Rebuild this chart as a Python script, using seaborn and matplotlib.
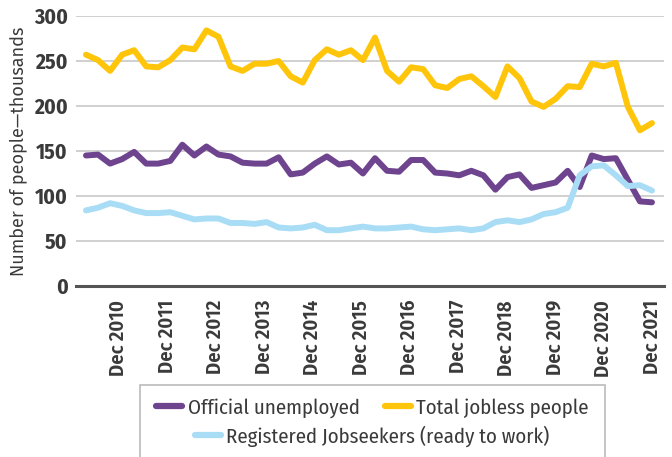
import numpy as np
import pandas as pd
import seaborn as sns
import matplotlib.pyplot as plt
from matplotlib import font_manager
from matplotlib.lines import Line2D
from matplotlib.patches import Rectangle

# Quarterly series, thousands of people
quarters = pd.period_range('2010Q1', '2021Q4', freq='Q').astype(str)
official_unemployed = [145, 146, 136, 141, 149, 136, 136, 139, 157, 145, 155, 146,
                       144, 137, 136, 136, 143, 124, 126, 136, 144, 135, 137, 125,
                       142, 128, 127, 140, 140, 126, 125, 123, 128, 123, 107, 121,
                       124, 109, 112, 115, 128, 110, 145, 141, 142, 118, 94, 93]
total_jobless = [257, 251, 239, 257, 262, 244, 243, 251, 265, 263, 284, 277,
                 244, 239, 247, 247, 250, 233, 226, 251, 263, 257, 262, 251,
                 276, 239, 227, 243, 241, 223, 220, 230, 233, 222, 210, 244,
                 231, 205, 199, 208, 222, 221, 247, 244, 248, 199, 173, 181]
registered_jobseekers = [84, 87, 92, 89, 84, 81, 81, 82, 78, 74, 75, 75,
                         70, 70, 69, 71, 65, 64, 65, 68, 62, 62, 64, 66,
                         64, 64, 65, 66, 63, 62, 63, 64, 62, 64, 71, 73,
                         71, 74, 80, 82, 87, 123, 133, 134, 123, 111, 112, 106]
year_labels = ['Dec 2010', 'Dec 2011', 'Dec 2012', 'Dec 2013', 'Dec 2014', 'Dec 2015',
               'Dec 2016', 'Dec 2017', 'Dec 2018', 'Dec 2019', 'Dec 2020', 'Dec 2021']
series_names = ['Official unemployed', 'Total jobless people',
                'Registered Jobseekers (ready to work)']
colors = ['#6F448F', '#FFC50A', '#A9DDF6']

df = pd.DataFrame({'idx': np.arange(len(quarters)),
                   series_names[0]: official_unemployed,
                   series_names[1]: total_jobless,
                   series_names[2]: registered_jobseekers})
df_long = df.melt(id_vars='idx', var_name='series', value_name='value')

sns.set_style('white')

# pick fonts that exist
have = {f.name for f in font_manager.fontManager.ttflist}
def pick(cands):
    for c in cands:
        if c in have:
            return c
    return 'DejaVu Sans'
cond_font = pick(['Fira Sans Condensed', 'Roboto Condensed', 'Archivo Narrow'])
reg_font = pick(['Fira Sans', 'Roboto', 'Lato'])
plt.rcParams['font.family'] = [cond_font, 'DejaVu Sans']
text_col = '#3a3a3a'

fig = plt.figure(figsize=(6.72, 4.57), dpi=100)
ax = fig.add_axes([76 / 672, 1 - 286 / 457, 588 / 672, 270 / 457])

sns.lineplot(data=df_long, x='idx', y='value', hue='series', hue_order=series_names,
             palette=colors, lw=4.3, legend=False, ax=ax)

ax.set_ylim(0, 300)
ax.set_xlim(-0.83, 48.0)
ax.set_yticks(range(0, 301, 50))
ax.yaxis.grid(True, color='#c8c8c8', lw=1.2)
ax.set_axisbelow(True)
for s in ['top', 'right', 'left']:
    ax.spines[s].set_visible(False)
ax.spines['bottom'].set_color('#555555')
ax.spines['bottom'].set_linewidth(2.2)

# ticks every 4 months, a label under each December
ticks = np.arange(36) * 47 / 35
labels = [''] * 36
for i, lab in enumerate(year_labels):
    labels[2 + 3 * i] = lab
ax.set_xticks(ticks)
ax.set_xticklabels(labels, rotation=90, fontsize=14.8, fontweight='semibold', color=text_col)
ax.tick_params(axis='x', length=6, width=1.2, color='#555555', pad=4)
ax.tick_params(axis='y', length=0, labelsize=15.5, labelcolor=text_col, pad=6)
for t in ax.get_yticklabels():
    t.set_fontweight('bold')
ax.set_xlabel('')
ax.set_ylabel('Number of people\u2014thousands', fontsize=13, color=text_col,
              family=[reg_font, 'DejaVu Sans'], labelpad=5)

handles = [Line2D([0], [0], color=c, lw=4.5, solid_capstyle='round') for c in colors]
leg_kw = dict(loc='center', frameon=False, fontsize=15, handlelength=1.25,
              handletextpad=0.25, columnspacing=1.2, labelcolor=text_col)
fig.legend(handles[:2], series_names[:2], bbox_to_anchor=(0.554, 1 - 408 / 457),
           ncol=2, **leg_kw)
fig.legend(handles[2:], series_names[2:], bbox_to_anchor=(0.554, 1 - 436 / 457), **leg_kw)
fig.add_artist(Rectangle((140 / 672, -0.05), 465 / 672, 1 - 385 / 457 + 0.05,
                         transform=fig.transFigure, fill=False, edgecolor='#bbbbbb', lw=1.2))

fig.savefig('out.png', dpi=100)
